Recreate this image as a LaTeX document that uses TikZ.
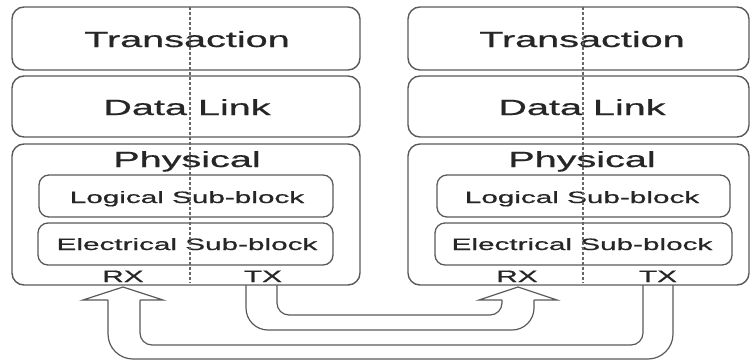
\documentclass[tikz,border=0pt]{standalone}
\usepackage{fontspec}
\setmainfont{Liberation Sans}
\newfontfamily\thicksans{Liberation Sans}[FakeBold=0.6]
\newcommand{\widetext}[1]{\scalebox{1.8}[1]{#1}}
\tikzset{
  layer/.style={draw=black!65, line width=1.4pt, rounded corners=12pt},
  sublayer/.style={draw=black!65, line width=1.3pt, rounded corners=10pt},
  bigtext/.style={text=black!85, anchor=base, inner sep=0pt, font=\thicksans\fontsize{22}{24}\selectfont},
  smalltext/.style={text=black!85, anchor=base, inner sep=0pt, font=\thicksans\fontsize{16.5}{18}\selectfont},
  split/.style={draw=black!60, line width=1.2pt, dash pattern=on 3pt off 2pt},
  pipe/.style={draw=black!65, line width=1.2pt},
}
\begin{document}
\begin{tikzpicture}[x=1pt, y=-1pt]
    \useasboundingbox (0,0) rectangle (751,362);
    % left stack
    \draw[layer] (12,7) rectangle (360,70);
    \draw[layer] (12,76) rectangle (360,137);
    \draw[layer] (12,144) rectangle (360,285);
    \draw[sublayer] (39,175) rectangle (333,217);
    \draw[sublayer] (38,223) rectangle (333,265);
    \node[bigtext] (transA) at (187,47) {\widetext{Transaction}};
    \node[bigtext] (linkA) at (187,115) {\widetext{Data Link}};
    \node[bigtext] (physA) at (187,167) {\widetext{Physical}};
    \node[smalltext] (logA) at (187,203) {\widetext{Logical Sub-block}};
    \node[smalltext] (elecA) at (187,250) {\widetext{Electrical Sub-block}};
    \node[smalltext] (rxA) at (123,282) {\widetext{RX}};
    \node[smalltext] (txA) at (263,282) {\widetext{TX}};
    \draw[split] (190,7) -- (190,283);
    % right stack
    \draw[layer] (408,7) rectangle (749,70);
    \draw[layer] (408,76) rectangle (749,137);
    \draw[layer] (408,144) rectangle (749,285);
    \draw[sublayer] (437,175) rectangle (730,217);
    \draw[sublayer] (435,223) rectangle (732,265);
    \node[bigtext] (transB) at (582,47) {\widetext{Transaction}};
    \node[bigtext] (linkB) at (582,115) {\widetext{Data Link}};
    \node[bigtext] (physB) at (582,167) {\widetext{Physical}};
    \node[smalltext] (logB) at (582,203) {\widetext{Logical Sub-block}};
    \node[smalltext] (elecB) at (582,250) {\widetext{Electrical Sub-block}};
    \node[smalltext] (rxB) at (517,282) {\widetext{RX}};
    \node[smalltext] (txB) at (658,282) {\widetext{TX}};
    \draw[split] (583,7) -- (583,283);
    % TX left -> RX right
    \draw[pipe, rounded corners=22pt] (246,285) -- (246,330) -- (534,330) -- (534,300);
    \draw[pipe, rounded corners=12pt] (277,285) -- (277,315) -- (502,315) -- (502,300);
    \draw[pipe] (502,300) -- (479,300) -- (518,287) -- (557,300) -- (534,300);
    % TX right -> RX left
    \draw[pipe, rounded corners=25pt] (673,285) -- (673,359) -- (108,359) -- (108,300);
    \draw[pipe, rounded corners=12pt] (643,285) -- (643,345) -- (140,345) -- (140,300);
    \draw[pipe] (140,300) -- (163,300) -- (123,287) -- (83,300) -- (108,300);
\end{tikzpicture}
\end{document}
